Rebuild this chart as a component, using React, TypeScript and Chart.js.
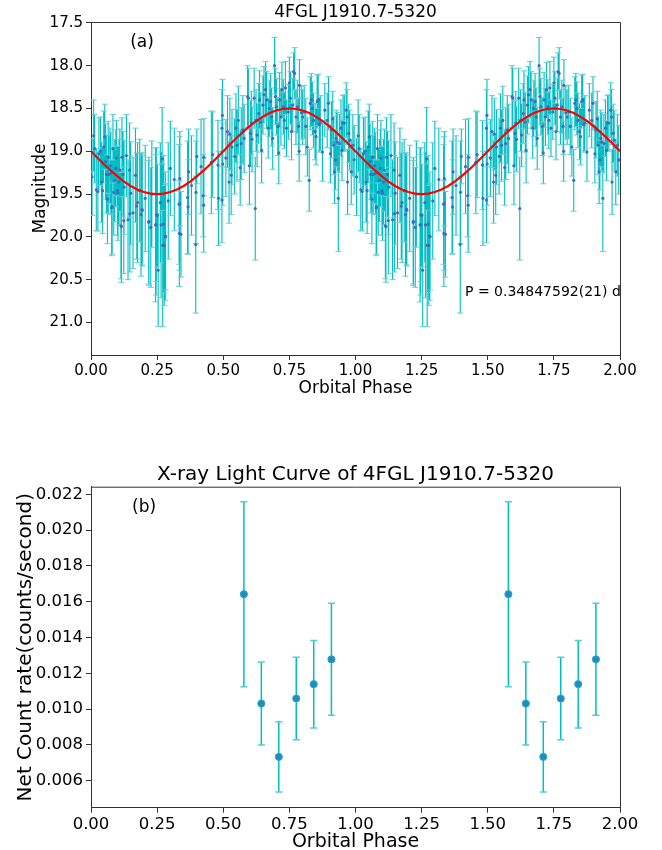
import React, { useEffect, useRef } from 'react';
import { Chart, registerables } from 'chart.js';
Chart.register(...registerables);

const FONT = "'DejaVu Sans', sans-serif";

// ---------- Panel (a): optical light curve, one folded cycle (plotted twice) ----------
const optPhase = [
  0.004, 0.010, 0.014, 0.020, 0.026, 0.030, 0.036, 0.040, 0.044, 0.048,
  0.052, 0.055, 0.058, 0.062, 0.065, 0.067, 0.072, 0.075, 0.078, 0.080,
  0.083, 0.086, 0.090, 0.094, 0.096, 0.100, 0.102, 0.106, 0.109, 0.113,
  0.115, 0.117, 0.121, 0.124, 0.125, 0.134, 0.140, 0.146, 0.147, 0.150,
  0.159, 0.168, 0.173, 0.176, 0.184, 0.189, 0.193, 0.194, 0.205, 0.218,
  0.219, 0.226, 0.230, 0.244, 0.246, 0.247, 0.251, 0.254, 0.262, 0.265,
  0.269, 0.271, 0.275, 0.277, 0.281, 0.282, 0.292, 0.300, 0.315, 0.333,
  0.334, 0.335, 0.336, 0.340, 0.365, 0.367, 0.369, 0.380, 0.396, 0.397,
  0.400, 0.416, 0.424, 0.426, 0.427, 0.455, 0.460, 0.480, 0.482, 0.495,
  0.495, 0.497, 0.498, 0.510, 0.516, 0.522, 0.525, 0.530, 0.533, 0.543,
  0.548, 0.552, 0.557, 0.564, 0.568, 0.574, 0.579, 0.592, 0.595, 0.599,
  0.603, 0.606, 0.609, 0.617, 0.621, 0.624, 0.628, 0.634, 0.637, 0.642,
  0.645, 0.650, 0.654, 0.660, 0.664, 0.670, 0.674, 0.679, 0.683, 0.687,
  0.694, 0.697, 0.701, 0.706, 0.710, 0.713, 0.718, 0.722, 0.727, 0.731,
  0.735, 0.739, 0.746, 0.750, 0.754, 0.758, 0.763, 0.766, 0.770, 0.775,
  0.780, 0.785, 0.787, 0.788, 0.795, 0.800, 0.806, 0.812, 0.818, 0.825,
  0.829, 0.833, 0.837, 0.841, 0.847, 0.851, 0.855, 0.859, 0.863, 0.867,
  0.875, 0.884, 0.893, 0.898, 0.905, 0.909, 0.914, 0.918, 0.921, 0.924,
  0.927, 0.931, 0.935, 0.939, 0.945, 0.949, 0.953, 0.958, 0.965, 0.968,
  0.970, 0.974, 0.978, 0.984, 0.990, 0.995,
];
const optMag = [
  19.30, 18.82, 18.97, 19.45, 19.47, 19.03, 19.00, 19.36, 19.46, 18.95,
  18.83, 19.12, 19.27, 19.56, 19.07, 19.27, 19.17, 19.26, 19.66, 19.65,
  18.97, 19.48, 19.34, 19.20, 19.08, 19.46, 19.49, 19.36, 19.22, 19.87,
  19.88, 19.07, 19.27, 19.81, 19.42, 19.05, 19.80, 19.22, 19.73, 19.49,
  19.72, 19.28, 19.64, 19.60, 19.46, 19.74, 19.68, 19.69, 19.55, 19.83,
  19.82, 19.89, 19.50, 19.86, 19.86, 19.74, 19.75, 20.39, 19.60, 19.86,
  19.09, 20.10, 19.85, 20.10, 19.99, 20.00, 19.58, 19.20, 19.33, 19.62,
  19.96, 19.61, 19.32, 19.97, 19.54, 19.65, 19.24, 19.40, 20.09, 19.48,
  19.06, 19.18, 19.52, 19.63, 19.07, 19.13, 19.04, 19.16, 19.55, 18.73,
  19.57, 18.58, 19.15, 19.08, 18.77, 19.36, 18.80, 19.28, 18.95, 19.06,
  18.73, 18.93, 18.64, 19.19, 18.91, 18.75, 18.85, 18.36, 18.38, 19.17,
  18.79, 18.67, 18.86, 18.38, 19.67, 18.64, 18.81, 18.56, 18.40, 18.66,
  18.99, 18.46, 18.34, 18.28, 18.40, 18.73, 18.50, 18.42, 18.60, 18.85,
  18.00, 18.36, 18.48, 18.71, 19.02, 18.40, 18.60, 18.28, 18.48, 18.64,
  18.26, 18.73, 18.54, 18.20, 18.38, 18.77, 18.46, 18.07, 18.09, 18.60,
  18.48, 18.71, 19.00, 18.23, 18.55, 18.60, 18.54, 18.71, 18.95, 19.34,
  18.44, 18.40, 18.50, 18.64, 18.77, 18.83, 18.42, 18.40, 18.69, 18.67,
  19.01, 18.52, 18.64, 18.44, 19.03, 18.75, 18.62, 18.93, 19.24, 19.10,
  18.85, 18.89, 19.55, 18.91, 18.73, 18.99, 18.67, 18.67, 18.52, 18.60,
  19.36, 18.79, 18.87, 19.24, 18.93, 19.10,
];
const optErr = [
  0.45, 0.42, 0.40, 0.48, 0.46, 0.42, 0.40, 0.47, 0.50, 0.42,
  0.38, 0.44, 0.45, 0.52, 0.42, 0.46, 0.44, 0.48, 0.56, 0.55,
  0.40, 0.50, 0.48, 0.45, 0.44, 0.52, 0.55, 0.50, 0.48, 0.62,
  0.65, 0.46, 0.50, 0.62, 0.55, 0.48, 0.70, 0.55, 0.68, 0.60,
  0.65, 0.55, 0.62, 0.70, 0.60, 0.72, 0.66, 0.64, 0.62, 0.72,
  0.75, 0.70, 0.62, 0.90, 0.82, 0.78, 0.60, 0.66, 0.70, 0.85,
  0.60, 0.95, 0.80, 0.70, 0.75, 0.62, 0.68, 0.55, 0.60, 0.70,
  0.62, 0.78, 0.55, 0.50, 0.66, 0.55, 0.50, 0.58, 0.80, 0.60,
  0.32, 0.55, 0.48, 0.55, 0.45, 0.60, 0.50, 0.52, 0.55, 0.45,
  0.50, 0.42, 0.48, 0.45, 0.42, 0.48, 0.42, 0.46, 0.44, 0.44,
  0.40, 0.42, 0.40, 0.44, 0.42, 0.40, 0.40, 0.36, 0.35, 0.45,
  0.38, 0.37, 0.38, 0.35, 0.60, 0.36, 0.37, 0.35, 0.34, 0.35,
  0.38, 0.34, 0.33, 0.33, 0.33, 0.35, 0.33, 0.33, 0.34, 0.36,
  0.33, 0.33, 0.33, 0.34, 0.36, 0.32, 0.33, 0.32, 0.32, 0.33,
  0.31, 0.33, 0.32, 0.30, 0.31, 0.33, 0.31, 0.22, 0.30, 0.32,
  0.31, 0.33, 0.35, 0.30, 0.31, 0.32, 0.31, 0.33, 0.34, 0.36,
  0.31, 0.31, 0.31, 0.32, 0.33, 0.33, 0.31, 0.30, 0.32, 0.32,
  0.34, 0.31, 0.32, 0.31, 0.34, 0.33, 0.32, 0.34, 0.37, 0.35,
  0.33, 0.34, 0.62, 0.34, 0.33, 0.35, 0.32, 0.33, 0.32, 0.32,
  0.38, 0.34, 0.35, 0.38, 0.36, 0.40,
];

// sinusoidal model, one cycle at 0.025 steps
const modelPhase = [
  0.000, 0.025, 0.050, 0.075, 0.100, 0.125, 0.150, 0.175, 0.200, 0.225,
  0.250, 0.275, 0.300, 0.325, 0.350, 0.375, 0.400, 0.425, 0.450, 0.475,
  0.500, 0.525, 0.550, 0.575, 0.600, 0.625, 0.650, 0.675, 0.700, 0.725,
  0.750, 0.775, 0.800, 0.825, 0.850, 0.875, 0.900, 0.925, 0.950, 0.975,
];
const modelMag = [
  19.000, 19.078, 19.155, 19.227, 19.294, 19.354, 19.405, 19.446, 19.476, 19.494,
  19.500, 19.494, 19.476, 19.446, 19.405, 19.354, 19.294, 19.227, 19.155, 19.078,
  19.000, 18.922, 18.845, 18.773, 18.706, 18.646, 18.595, 18.554, 18.524, 18.506,
  18.500, 18.506, 18.524, 18.554, 18.595, 18.646, 18.706, 18.773, 18.845, 18.922,
];

const topXTicks = [0, 0.25, 0.5, 0.75, 1.0, 1.25, 1.5, 1.75, 2.0];
const topYTicks = [17.5, 18.0, 18.5, 19.0, 19.5, 20.0, 20.5, 21.0];

// ---------- Panel (b): X-ray light curve ----------
const xrayPhase = [0.578, 0.644, 0.710, 0.776, 0.842, 0.909];
const xrayRate = [0.01642, 0.01031, 0.00733, 0.01059, 0.01139, 0.01278];
const xrayErr = [0.00517, 0.00232, 0.00196, 0.00231, 0.00244, 0.00313];
const botYTicks = [0.006, 0.008, 0.010, 0.012, 0.014, 0.016, 0.018, 0.020, 0.022];

// ---------- helpers ----------
const twoPhases = (p: number[]) => [...p, ...p.map((v) => v + 1)];
const twoVals = (v: number[]) => [...v, ...v];

function pts(x: number[], y: number[]) {
  return x.map((xv, i) => ({ x: xv, y: y[i] }));
}
function errPts(x: number[], y: number[], e: number[]) {
  const out: any[] = [];
  x.forEach((xv, i) => {
    out.push({ x: xv, y: y[i] - e[i] }, { x: xv, y: y[i] + e[i] }, { x: xv, y: null });
  });
  return out;
}

type Txt = { text: string; fx: number; fy: number; size: number };
function framePlugin(title: string, titleSize: number, titleY: number, texts: Txt[]) {
  return {
    id: 'frameText',
    afterDraw(chart: any) {
      const { ctx, chartArea: a } = chart;
      ctx.save();
      ctx.strokeStyle = '#333';
      ctx.lineWidth = 1;
      ctx.beginPath();
      ctx.moveTo(a.left, a.top + 0.5);
      ctx.lineTo(a.right + 0.5, a.top + 0.5);
      ctx.lineTo(a.right + 0.5, a.bottom);
      ctx.stroke();
      ctx.fillStyle = '#000';
      ctx.textBaseline = 'middle';
      ctx.textAlign = 'center';
      ctx.font = `${titleSize}px ${FONT}`;
      ctx.fillText(title, (a.left + a.right) / 2, titleY);
      ctx.textAlign = 'left';
      texts.forEach((t) => {
        ctx.font = `${t.size}px ${FONT}`;
        ctx.fillText(t.text, a.left + t.fx * (a.right - a.left), a.top + t.fy * (a.bottom - a.top));
      });
      ctx.restore();
    },
  };
}

function axisX(tickSize: number, titleSize: number, height: number, titleLH: number, titlePadBottom: number, ticks: number[]) {
  return {
    type: 'linear',
    min: 0,
    max: 2,
    afterBuildTicks: (s: any) => { s.ticks = ticks.map((v) => ({ value: v })); },
    afterFit: (s: any) => { s.height = height; },
    ticks: { callback: (v: any) => Number(v).toFixed(2), font: { size: tickSize, family: FONT }, color: '#000', padding: 2, maxRotation: 0, autoSkip: false },
    grid: { drawOnChartArea: false, tickLength: 5, color: '#333', tickWidth: 1 },
    border: { display: true, color: '#333', width: 1 },
    title: { display: true, text: 'Orbital Phase', color: '#000', font: { size: titleSize, family: FONT, lineHeight: titleLH }, padding: { top: 0, bottom: titlePadBottom } },
  };
}

export default function App() {
  const topRef = useRef<HTMLCanvasElement>(null);
  const botRef = useRef<HTMLCanvasElement>(null);

  useEffect(() => {
    const oP = twoPhases(optPhase);
    const oM = twoVals(optMag);
    const oE = twoVals(optErr);
    const mP = [...twoPhases(modelPhase), 2.0];
    const mM = [...twoVals(modelMag), modelMag[0]];

    const top = new Chart(topRef.current as HTMLCanvasElement, {
      type: 'line',
      data: {
        datasets: [
          { data: pts(mP, mM), borderColor: '#ff0000', borderWidth: 2.2, pointRadius: 0, tension: 0, order: 0 } as any,
          { data: pts(oP, oM), showLine: false, pointRadius: 1.6, pointBackgroundColor: '#3d6cc2', pointBorderWidth: 0, order: 1 } as any,
          { data: errPts(oP, oM, oE), borderColor: 'rgb(0,190,196)', borderWidth: 1.1, pointStyle: 'line', pointRadius: 3, pointBorderColor: '#5fd0d2', pointBorderWidth: 1, spanGaps: false, tension: 0, order: 2 } as any,
        ],
      },
      options: {
        animation: false,
        responsive: false,
        devicePixelRatio: 1,
        events: [],
        layout: { padding: { left: 0, right: 42, top: 22, bottom: 0 } },
        plugins: {
          legend: { display: false },
          tooltip: { enabled: false },
          title: { display: false },
        },
        scales: {
          x: axisX(15, 17, 70, 1, 28, topXTicks) as any,
          y: {
            type: 'linear',
            reverse: true,
            min: 17.49,
            max: 21.38,
            afterBuildTicks: (s: any) => { s.ticks = topYTicks.map((v) => ({ value: v })); },
            afterFit: (s: any) => { s.width = 91; },
            ticks: { callback: (v: any) => Number(v).toFixed(1), font: { size: 15, family: FONT }, color: '#000', padding: 3, autoSkip: false },
            grid: { drawOnChartArea: false, tickLength: 5, color: '#333', tickWidth: 1 },
            border: { display: true, color: '#333', width: 1 },
            title: { display: true, text: 'Magnitude', color: '#000', font: { size: 17, family: FONT, lineHeight: 1.2 }, padding: { top: 30, bottom: 0 } },
          } as any,
        },
      } as any,
      plugins: [framePlugin('4FGL J1910.7-5320', 17, 12.5, [
        { text: '(a)', fx: 0.074, fy: 0.063, size: 17 },
        { text: 'P = 0.34847592(21) d', fx: 0.707, fy: 0.811, size: 14 },
      ])],
    });

    const xP = twoPhases(xrayPhase);
    const xR = twoVals(xrayRate);
    const xE = twoVals(xrayErr);

    const bot = new Chart(botRef.current as HTMLCanvasElement, {
      type: 'line',
      data: {
        datasets: [
          { data: pts(xP, xR), showLine: false, pointRadius: 3.6, pointBackgroundColor: '#1f8dbf', pointBorderColor: '#2fa8c9', pointBorderWidth: 1, order: 0 } as any,
          { data: errPts(xP, xR, xE), borderColor: 'rgb(0,190,196)', borderWidth: 1.5, pointStyle: 'line', pointRadius: 3.5, pointBorderColor: '#4fcfd2', pointBorderWidth: 1.5, spanGaps: false, tension: 0, order: 1 } as any,
        ],
      },
      options: {
        animation: false,
        responsive: false,
        devicePixelRatio: 1,
        events: [],
        layout: { padding: { left: 0, right: 42, top: 61.7, bottom: 0 } },
        plugins: {
          legend: { display: false },
          tooltip: { enabled: false },
          title: { display: false },
        },
        scales: {
          x: axisX(16.5, 19, 42.3, 0.8, 0, topXTicks) as any,
          y: {
            type: 'linear',
            min: 0.00449,
            max: 0.022425,
            afterBuildTicks: (s: any) => { s.ticks = botYTicks.map((v) => ({ value: v })); },
            afterFit: (s: any) => { s.width = 91; },
            ticks: { callback: (v: any) => Number(v).toFixed(3), font: { size: 16.5, family: FONT }, color: '#000', padding: 3, autoSkip: false },
            grid: { drawOnChartArea: false, tickLength: 5, color: '#333', tickWidth: 1 },
            border: { display: true, color: '#333', width: 1 },
            title: { display: true, text: 'Net Count rate(counts/second)', color: '#000', font: { size: 20, family: FONT, lineHeight: 1.2 }, padding: { top: 14, bottom: 0 } },
          } as any,
        },
      } as any,
      plugins: [framePlugin('X-ray Light Curve of 4FGL J1910.7-5320', 20, 50, [
        { text: '(b)', fx: 0.0775, fy: 0.065, size: 17 },
      ])],
    });

    return () => { top.destroy(); bot.destroy(); };
  }, []);

  return (
    <div style={{ position: 'absolute', left: 0, top: 0, width: 662, height: 850, overflow: 'hidden', background: '#fff' }}>
      <canvas ref={topRef} width={662} height={425} style={{ position: 'absolute', left: 0, top: 0, width: 662, height: 425 }} />
      <canvas ref={botRef} width={662} height={425} style={{ position: 'absolute', left: 0, top: 425, width: 662, height: 425 }} />
    </div>
  );
}
